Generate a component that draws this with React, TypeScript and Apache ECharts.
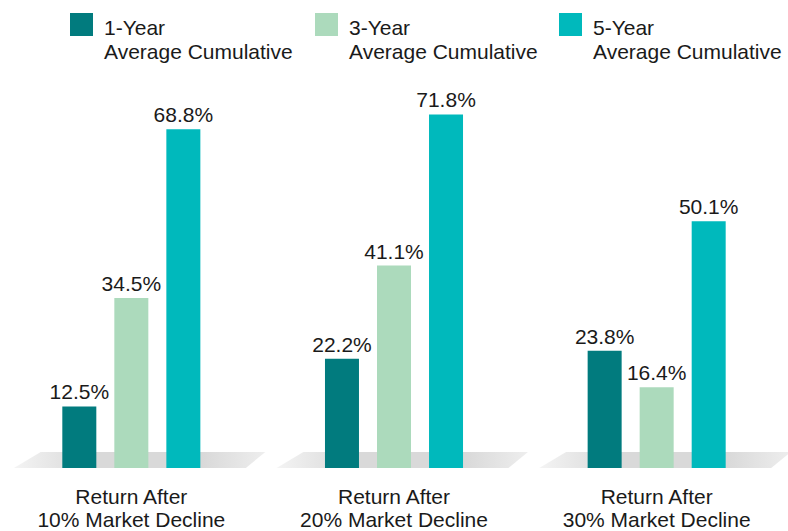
import React, { useEffect, useRef } from "react";
import * as echarts from "echarts";

const categories = [
  "Return After\n10% Market Decline",
  "Return After\n20% Market Decline",
  "Return After\n30% Market Decline",
];
const seriesNames = ["1-Year", "3-Year", "5-Year"];
const legendSubtitle = "Average Cumulative";
const oneYear = [12.5, 22.2, 23.8];
const threeYear = [34.5, 41.1, 16.4];
const fiveYear = [68.8, 71.8, 50.1];
const colors = ["#017b7e", "#acdabc", "#00b9bc"];

const FONT = "'Liberation Sans', Arial, Helvetica, sans-serif";
const TEXT = "#1a1a1a";
const FS = 21;

export default function App() {
  const ref = useRef<HTMLDivElement>(null);
  useEffect(() => {
    if (!ref.current) return;
    const chart = echarts.init(ref.current, undefined, { renderer: "svg" });
    const values = [oneYear, threeYear, fiveYear];
    const legendLefts = [70, 315, 559];
    const floorFill = {
      type: "linear",
      x: 0,
      y: 0,
      x2: 1,
      y2: 0,
      colorStops: [
        { offset: 0, color: "#f4f4f4" },
        { offset: 0.3, color: "#d9d9d9" },
        { offset: 0.75, color: "#d9d9d9" },
        { offset: 1, color: "#eeeeee" },
      ],
    };
    chart.setOption({
      animation: false,
      textStyle: { fontFamily: FONT, color: TEXT },
      legend: seriesNames.map((n, i) => ({
        data: [n],
        left: legendLefts[i],
        top: -0.5,
        padding: 0,
        icon: "rect",
        itemWidth: 23,
        itemHeight: 23,
        selectedMode: false,
        formatter: (name: string) => "{s| }\n{a|" + name + "}\n{a|" + legendSubtitle + "}",
        textStyle: {
          fontFamily: FONT,
          fontSize: FS,
          color: TEXT,
          rich: {
            s: { fontSize: 2, lineHeight: 30, padding: [0, 0, 0, 6] },
            a: { fontFamily: FONT, fontSize: FS, lineHeight: 24, color: TEXT, padding: [0, 0, 0, 6] },
          },
        },
      })),
      grid: { left: -2, right: -1, top: 74, bottom: 61 },
      xAxis: {
        type: "category",
        data: categories,
        axisLine: { show: false },
        axisTick: { show: false },
        splitLine: { show: false },
        axisLabel: {
          fontFamily: FONT,
          fontSize: FS,
          lineHeight: 23,
          color: TEXT,
          margin: 17,
          interval: 0,
        },
      },
      yAxis: {
        type: "value",
        min: 0,
        max: 80,
        show: false,
      },
      series: [
        {
          type: "custom",
          name: "floor",
          z: 1,
          silent: true,
          data: categories.map((_, i) => [i, 0]),
          encode: { x: 0, y: 1 },
          renderItem: (params: any, api: any) => {
            const c = api.coord([api.value(0), 0]);
            const band = api.size([1, 0])[0];
            const cx = c[0];
            const y = c[1];
            const h = 16;
            return {
              type: "polygon",
              shape: {
                points: [
                  [cx - 0.447 * band, y],
                  [cx + 0.436 * band, y],
                  [cx + 0.51 * band, y - h],
                  [cx - 0.345 * band, y - h],
                ],
              },
              style: { fill: floorFill },
            };
          },
        },
        ...seriesNames.map((n, i) => ({
          type: "bar",
          name: n,
          z: 2,
          data: values[i],
          barWidth: 34,
          barGap: "53%",
          itemStyle: { color: colors[i] },
          label: {
            show: true,
            position: "top",
            distance: 4,
            formatter: (p: any) => p.value.toFixed(1) + "%",
            fontFamily: FONT,
            fontSize: FS,
            color: TEXT,
          },
        })),
      ],
    });
    return () => chart.dispose();
  }, []);
  return (
    <div
      ref={ref}
      style={{ position: "fixed", left: 0, top: 0, width: 788, height: 531, background: "#ffffff" }}
    />
  );
}
